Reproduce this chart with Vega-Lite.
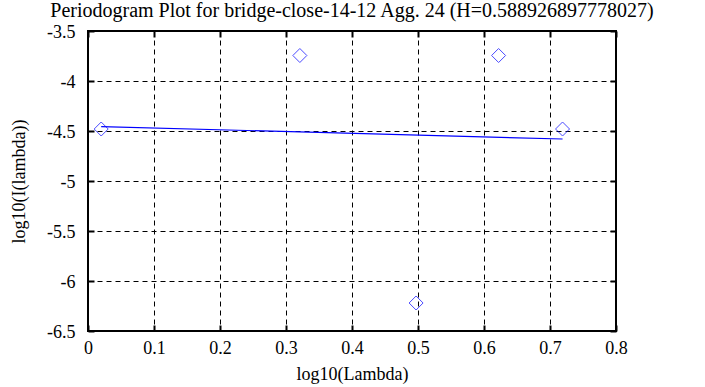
{
  "$schema": "https://vega.github.io/schema/vega-lite/v6.json",
  "autosize": "none",
  "width": 528,
  "height": 300,
  "padding": {"left": 88, "top": 31, "right": 89, "bottom": 56},
  "background": "white",
  "config": {
    "font": "Liberation Serif",
    "view": {"stroke": "black", "strokeWidth": 2},
    "axis": {
      "labelFont": "Liberation Serif",
      "titleFont": "Liberation Serif",
      "labelFontSize": 18,
      "titleFontSize": 18,
      "labelColor": "black",
      "titleColor": "black",
      "titleFontWeight": "normal",
      "domain": false,
      "tickColor": "black",
      "tickWidth": 2,
      "tickSize": -6,
      "gridColor": "black",
      "gridDash": [5, 4],
      "gridWidth": 1,
      "gridOpacity": 1,
      "labelExpr": "toString(datum.value)"
    }
  },
  "title": {
    "text": "Periodogram Plot for bridge-close-14-12 Agg. 24 (H=0.588926897778027)",
    "font": "Liberation Serif",
    "fontSize": 20,
    "fontWeight": "normal",
    "color": "black",
    "anchor": "middle",
    "offset": 2
  },
  "datasets": {
    "pts": [
      {"x": 0.0200, "y": -4.48},
      {"x": 0.3210, "y": -3.745},
      {"x": 0.4971, "y": -6.22},
      {"x": 0.6221, "y": -3.745},
      {"x": 0.7190, "y": -4.48}
    ],
    "fit": [
      {"x": 0.0200, "y": -4.456},
      {"x": 0.7190, "y": -4.580}
    ]
  },
  "layer": [
    {
      "data": {"name": "pts"},
      "mark": {"type": "point", "shape": "diamond", "size": 196, "color": "#0000ff", "strokeWidth": 1, "filled": false},
      "encoding": {
        "x": {"field": "x", "type": "quantitative", "scale": {"domain": [0, 0.8], "nice": false, "zero": false},
              "axis": {"title": "log10(Lambda)", "values": [0, 0.1, 0.2, 0.3, 0.4, 0.5, 0.6, 0.7, 0.8], "labelPadding": 14, "titlePadding": 8, "labelFlush": false, "labelOverlap": false}},
        "y": {"field": "y", "type": "quantitative", "scale": {"domain": [-6.5, -3.5], "nice": false, "zero": false},
              "axis": {"title": "log10(I(lambda))", "values": [-6.5, -6, -5.5, -5, -4.5, -4, -3.5], "labelPadding": 19, "titlePadding": 18, "labelOffset": 1, "labelFlush": false, "labelOverlap": false}}
      }
    },
    {
      "data": {"name": "fit"},
      "mark": {"type": "line", "color": "#0000ff", "strokeWidth": 1.2},
      "encoding": {
        "x": {"field": "x", "type": "quantitative", "axis": {"orient": "top", "labels": false, "title": null, "grid": false, "values": [0, 0.1, 0.2, 0.3, 0.4, 0.5, 0.6, 0.7, 0.8]}},
        "y": {"field": "y", "type": "quantitative", "axis": {"orient": "right", "labels": false, "title": null, "grid": false, "values": [-6.5, -6, -5.5, -5, -4.5, -4, -3.5]}}
      }
    }
  ],
  "resolve": {"axis": {"x": "independent", "y": "independent"}}
}
